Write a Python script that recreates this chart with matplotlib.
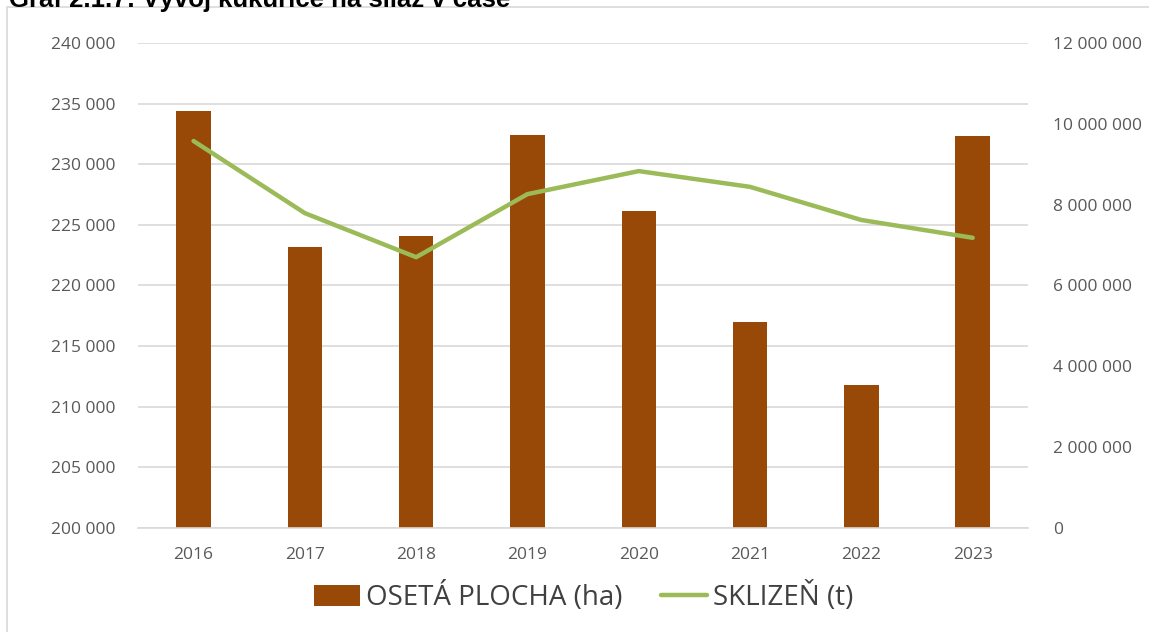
import matplotlib
matplotlib.use('Agg')
from matplotlib import pyplot as plt
from matplotlib.ticker import FuncFormatter
from matplotlib.patches import Rectangle

plt.rcParams['font.family'] = ['Open Sans', 'DejaVu Sans']

years = ['2016', '2017', '2018', '2019', '2020', '2021', '2022', '2023']
plocha_ha = [234400, 223200, 224100, 232400, 226150, 217000, 211800, 232350]
sklizen_t = [9575000, 7790000, 6700000, 8260000, 8830000, 8440000, 7620000, 7180000]

bar_color = '#984807'
line_color = '#9BBB59'
text_color = '#595959'


def space_fmt(v, pos):
    return f'{int(round(v)):,}'.replace(',', ' ')


fig = plt.figure(figsize=(11.49, 6.32), dpi=100)
fig.patches.append(Rectangle((7 / 1149, -0.01), 1.02, 1 - 7 / 632 + 0.01, transform=fig.transFigure,
                             fill=False, edgecolor='#D9D9D9', linewidth=1.2))
# title is cut off at the top edge, like in the source picture
fig.text(0.008, 1 - 7 / 632, 'Graf 2.1.7: Vývoj kukuřice na siláž v čase', fontsize=18.5, fontweight='bold',
         va='baseline', ha='left', color='black', family=['Liberation Sans', 'DejaVu Sans'])

ax1 = fig.add_axes([0.120, 0.1646, 0.775, 0.7674])
x = list(range(len(years)))
ax1.bar(x, plocha_ha, width=0.31, color=bar_color, label='OSETÁ PLOCHA (ha)', zorder=2)
ax1.set_ylim(200000, 240000)
ax1.set_yticks(range(200000, 240001, 5000))
ax1.yaxis.set_major_formatter(FuncFormatter(space_fmt))
ax1.set_xlim(-0.5, 7.5)
ax1.set_xticks(x)
ax1.set_xticklabels(years)
ax1.grid(axis='y', color='#D9D9D9', linewidth=1.2, zorder=0)
ax1.set_axisbelow(True)

ax2 = ax1.twinx()
ax2.plot(x, sklizen_t, color=line_color, linewidth=3.2, solid_capstyle='round', label='SKLIZEŇ (t)', zorder=3)
ax2.set_ylim(0, 12000000)
ax2.set_yticks(range(0, 12000001, 2000000))
ax2.yaxis.set_major_formatter(FuncFormatter(space_fmt))

for ax in (ax1, ax2):
    for s in ax.spines.values():
        s.set_visible(False)
    ax.tick_params(length=0, labelsize=12.5, colors=text_color)
ax1.tick_params(axis='y', pad=16)
ax1.tick_params(axis='x', pad=14)
ax2.tick_params(axis='y', pad=18)
ax1.spines['bottom'].set_visible(True)
ax1.spines['bottom'].set_color('#D9D9D9')
ax1.spines['bottom'].set_linewidth(1.2)

h1, l1 = ax1.get_legend_handles_labels()
h2, l2 = ax2.get_legend_handles_labels()
leg = fig.legend(h1 + h2, l1 + l2, loc='center', bbox_to_anchor=(0.508, 0.055), ncol=2, frameon=False,
                 fontsize=20, handlelength=1.65, handleheight=0.8, handletextpad=0.2, columnspacing=1.4)
for t in leg.get_texts():
    t.set_color('#404040')

fig.savefig('out.png', dpi=100)
